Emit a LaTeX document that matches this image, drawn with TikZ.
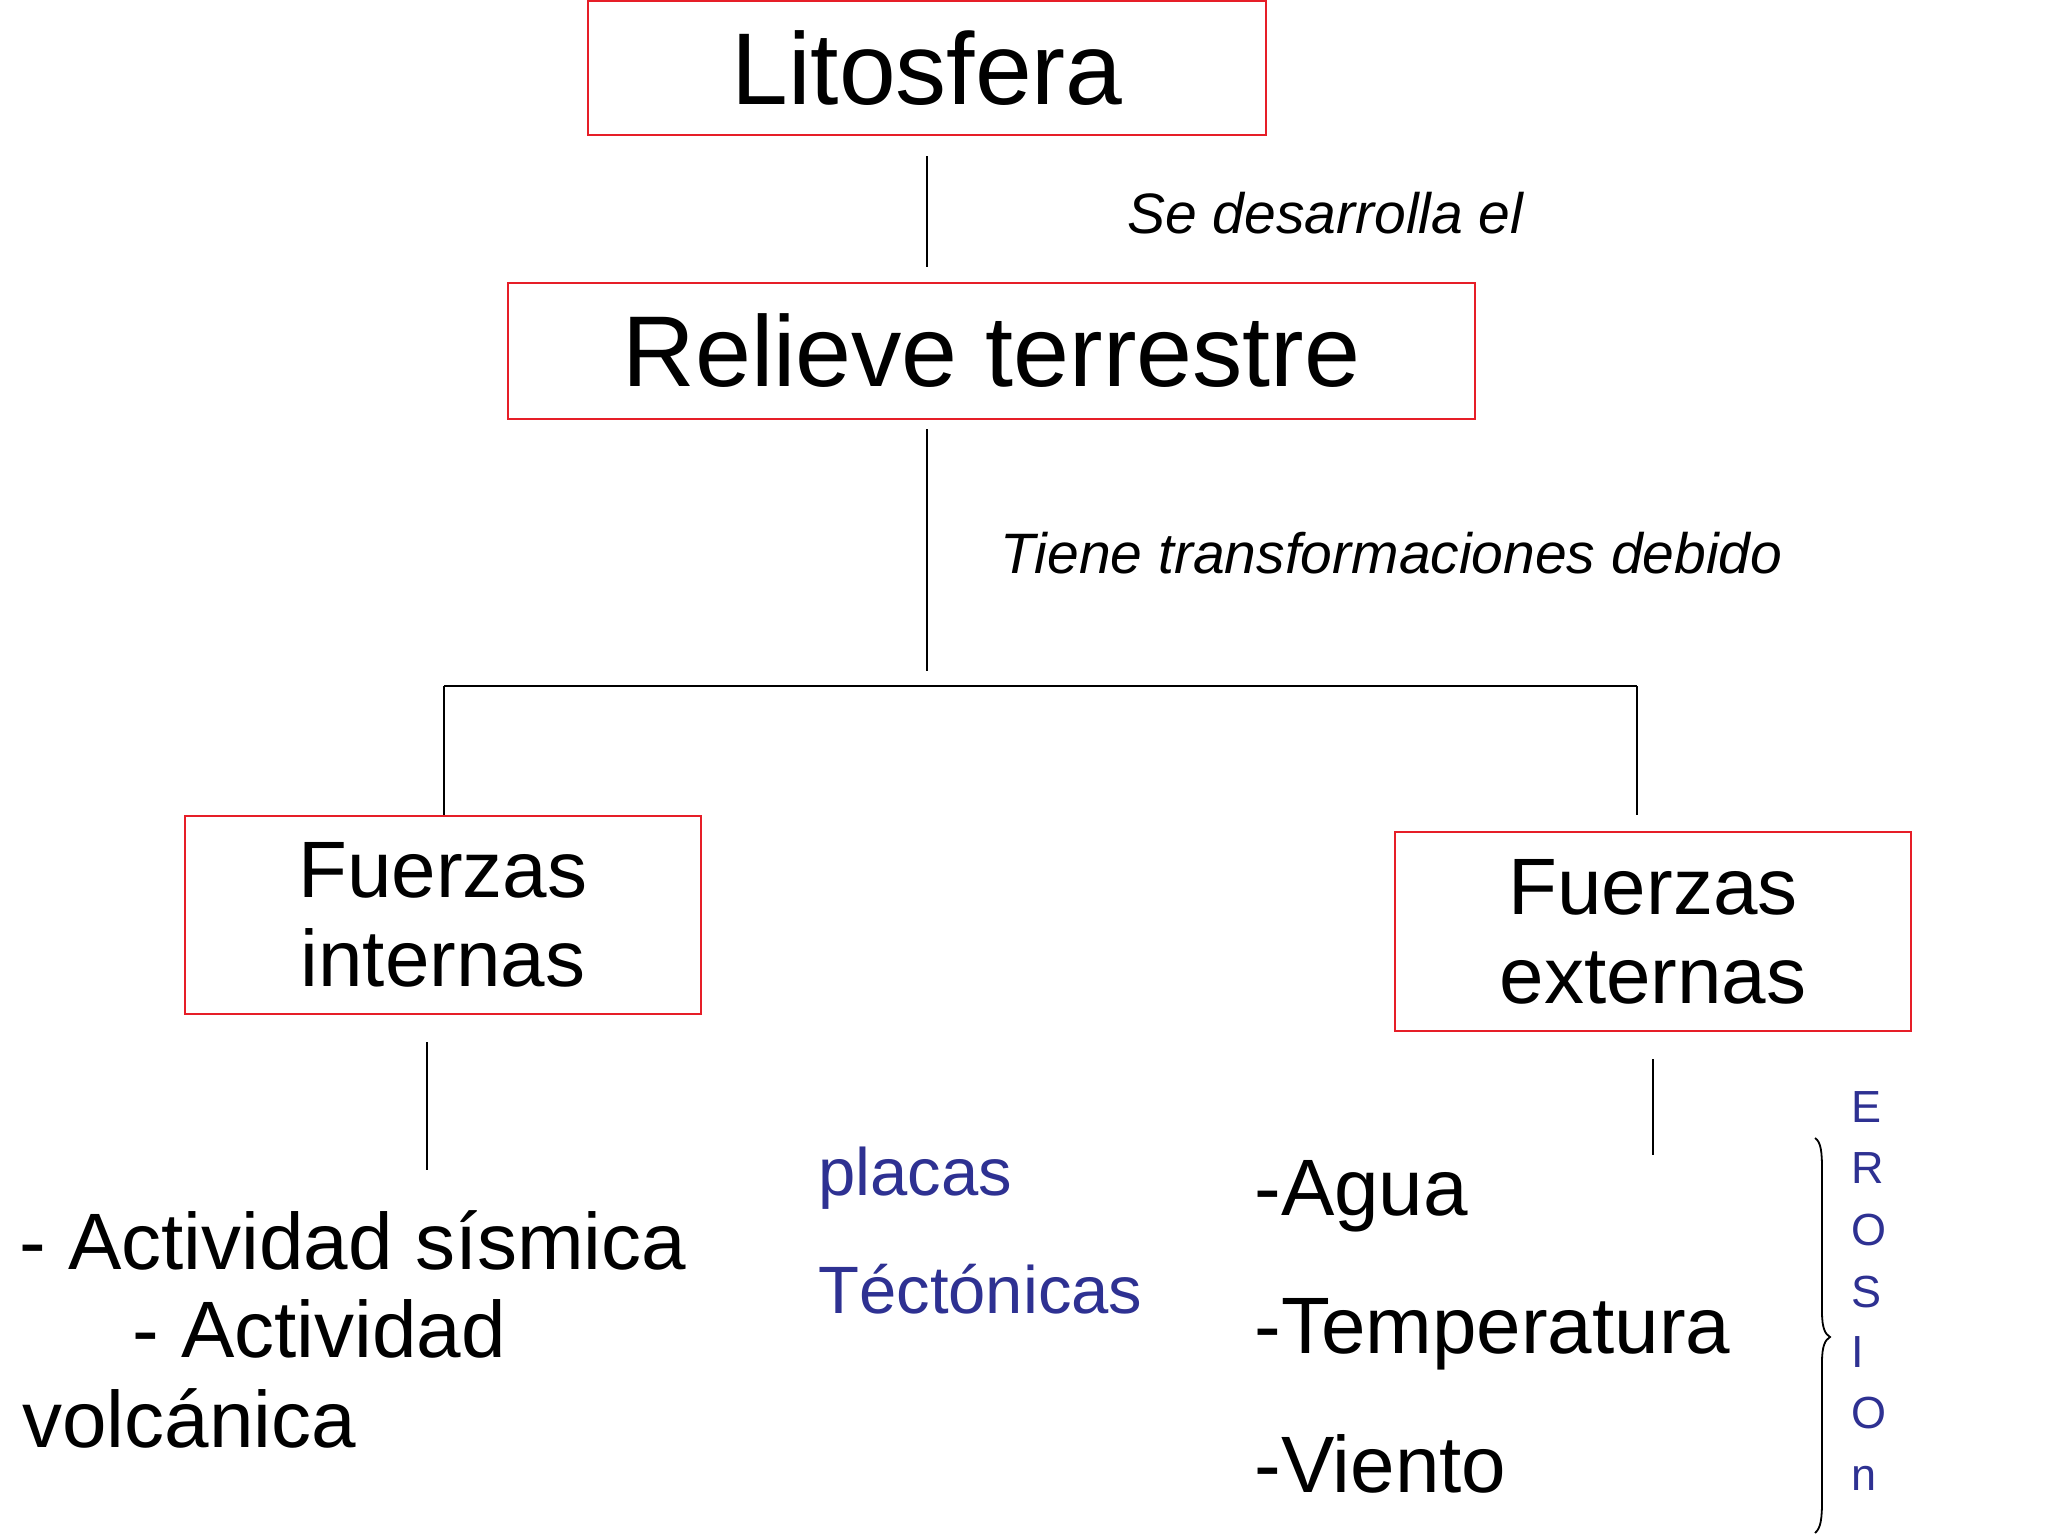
\documentclass[tikz,border=0pt]{standalone}
\usepackage{fontspec}
\setmainfont{Liberation Sans}
\definecolor{boxred}{RGB}{230,30,40}
\definecolor{textblue}{RGB}{46,49,146}
\begin{document}
\begin{tikzpicture}[x=0.5pt,y=-0.5pt,
  redbox/.style={draw=boxred,line width=1pt,inner sep=0pt,align=center},
  conn/.style={draw=black,line width=0.9pt},
  txt/.style={inner sep=0pt,anchor=base west},
  big/.style={font=\fontsize{51}{56}\selectfont},
  mid/.style={font=\fontsize{40}{44.5}\selectfont},
  lbl/.style={font=\fontsize{28.5}{32}\selectfont\itshape},
  blu/.style={font=\fontsize{33.5}{38}\selectfont,text=textblue},
  ero/.style={font=\fontsize{22.5}{25}\selectfont,text=textblue,inner sep=0pt,anchor=base west}]
\useasboundingbox (0,0) rectangle (2048,1536);
\fill[white] (0,0) rectangle (2048,1536);

\node[redbox,big,minimum width=339pt,minimum height=67pt] (lito) at (927,68) {Litosfera};
\node[redbox,font=\fontsize{50.3}{55}\selectfont,minimum width=483.5pt,minimum height=68pt] (relieve) at (991.5,351) {Relieve terrestre};
\node[redbox,mid,minimum width=258pt,minimum height=99pt] (internas) at (443,915) {Fuerzas\\internas};
\node[redbox,mid,minimum width=258pt,minimum height=99.5pt] (externas) at (1653,931.5) {Fuerzas\\externas};

\node[txt,lbl] (se) at (1127,233) {Se desarrolla el};
\node[txt,lbl] (tiene) at (1000,573) {Tiene transformaciones debido};

\coordinate (hub) at (927,671);
\coordinate (barL) at (444,686);
\coordinate (barR) at (1637,686);
\coordinate (intEnd) at (427,1170);
\coordinate (extEnd) at (1653,1155);

\draw[conn] ([yshift=-10pt]lito.south) -- ([yshift=7.5pt]lito.south |- relieve.north);
\draw[conn] ([yshift=-4.5pt]lito.south |- relieve.south) -- (hub);
\draw[conn] (barL) -- (barR);
\draw[conn] (barL) -- (barL |- internas.north);
\draw[conn] (barR) -- ([yshift=8pt]barR |- externas.north);
\draw[conn] ([xshift=-8pt,yshift=-13.5pt]internas.south) -- (intEnd);
\draw[conn] ([yshift=-13.5pt]externas.south) -- (extEnd);

\node[txt,mid] (act1) at (19,1269) {- Actividad sísmica};
\node[txt,mid] (act2) at (132,1357) {- Actividad};
\node[txt,mid] (act3) at (22,1447) {volcánica};

\node[txt,blu] (placas) at (818,1195) {placas};
\node[txt,blu] (tect) at (818,1313) {Téctónicas};

\node[txt,mid] (agua) at (1254,1215) {-Agua};
\node[txt,mid] (temp) at (1254,1353) {-Temperatura};
\node[txt,mid] (viento) at (1254,1492) {-Viento};

\draw[line width=0.9pt] (1815,1138) .. controls (1821,1142) and (1822,1152) .. (1822,1170)
  -- (1822,1312) .. controls (1822,1328) and (1825,1334) .. (1830,1337)
  .. controls (1825,1340) and (1822,1346) .. (1822,1362)
  -- (1822,1500) .. controls (1822,1518) and (1821,1528) .. (1815,1533);

\node[ero] (e1) at (1851,1122) {E};
\node[ero] (e2) at (1851,1183) {R};
\node[ero] (e3) at (1851,1245) {O};
\node[ero] (e4) at (1851,1307) {S};
\node[ero] (e5) at (1851,1367) {I};
\node[ero] (e6) at (1851,1428) {O};
\node[ero] (e7) at (1851,1490) {n};
\end{tikzpicture}
\end{document}
